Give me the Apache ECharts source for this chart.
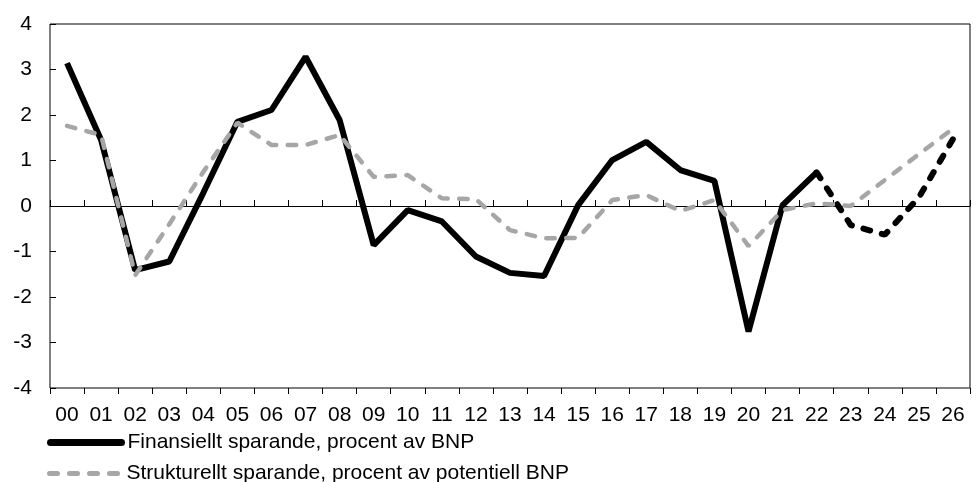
<!DOCTYPE html>
<html>
<head>
<meta charset="utf-8">
<script src="https://cdn.jsdelivr.net/npm/echarts@6/dist/echarts.min.js"></script>
<style>
  html, body { margin: 0; padding: 0; background: #fff; }
  #main { width: 978px; height: 482px; }
</style>
</head>
<body>
<div id="main"></div>
<script>
// år (2000-2026)
var years = ['00','01','02','03','04','05','06','07','08','09','10','11','12','13',
             '14','15','16','17','18','19','20','21','22','23','24','25','26'];

// finansiellt sparande, utfall t.o.m. 22, prognos därefter
var finansiellt = [3.14, 1.45, -1.41, -1.22, 0.29, 1.85, 2.11, 3.28, 1.89, -0.86,
                   -0.09, -0.34, -1.11, -1.47, -1.54, 0.02, 1.01, 1.41, 0.79, 0.55,
                   -2.76, 0.02, 0.74, -0.42, -0.63, 0.19, 1.47];
var lastOutcome = 22;

// strukturellt sparande
var strukturellt = [1.76, 1.56, -1.52, -0.40, 0.75, 1.83, 1.34, 1.34, 1.56, 0.64,
                    0.68, 0.17, 0.15, -0.53, -0.71, -0.70, 0.13, 0.24, -0.11, 0.13,
                    -0.88, -0.09, 0.06, 0.0, 0.57, 1.14, 1.70];

var yTicks = [-4, 4, 1]; // min, max, interval

var nameFin = 'Finansiellt sparande, procent av BNP';
var nameStr = 'Strukturellt sparande, procent av potentiell BNP';

var finUtfall = finansiellt.map(function (v, i) { return i <= lastOutcome ? v : null; });
var finPrognos = finansiellt.map(function (v, i) { return i >= lastOutcome ? v : null; });

var font = 'Liberation Sans, Arial, sans-serif';
var chart = echarts.init(document.getElementById('main'));

function legendFor(name, top, lineStyle) {
  return {
    left: 47, top: top, padding: 0,
    itemWidth: 71, itemHeight: 14,
    itemStyle: { opacity: 0 },
    lineStyle: lineStyle,
    data: [name],
    textStyle: { fontFamily: font, fontSize: 21, color: '#000', padding: [0, 0, 0, 1] }
  };
}

var option = {
  animation: false,
  grid: {
    left: 50, right: 8, top: 24, bottom: 94,
    show: true, borderColor: '#000', borderWidth: 1
  },
  legend: [
    legendFor(nameFin, 432, { color: '#000', width: 7, cap: 'round', type: 'solid' }),
    legendFor(nameStr, 463, { color: '#a6a6a6', width: 5, cap: 'round', type: [8, 12] })
  ],
  xAxis: [
    {
      type: 'category', data: years, position: 'bottom',
      axisLine: { show: false, onZero: false },
      axisTick: { show: false },
      axisLabel: { fontFamily: font, fontSize: 21, color: '#000', margin: 17, interval: 0 }
    },
    {
      type: 'category', data: years, position: 'bottom',
      axisLine: { show: true, onZero: true, lineStyle: { color: '#000', width: 1 } },
      axisTick: { show: true, inside: true, length: 6, lineStyle: { color: '#000' } },
      axisLabel: { show: false }
    },
    {
      type: 'category', data: years, position: 'bottom',
      axisLine: { show: false, onZero: true },
      axisTick: { show: true, inside: false, length: 6, lineStyle: { color: '#000' } },
      axisLabel: { show: false }
    }
  ],
  yAxis: {
    type: 'value', min: yTicks[0], max: yTicks[1], interval: yTicks[2],
    axisLine: { show: false },
    axisTick: { show: true, inside: true, length: 6, lineStyle: { color: '#000' } },
    splitLine: { show: false },
    axisLabel: { fontFamily: font, fontSize: 21, color: '#000', margin: 18 }
  },
  series: [
    {
      name: nameFin,
      type: 'line', data: finUtfall, symbol: 'none',
      lineStyle: { color: '#000', width: 6 },
      itemStyle: { color: '#000' }
    },
    {
      name: 'Finansiellt prognos',
      type: 'line', data: finPrognos, symbol: 'none',
      lineStyle: { color: '#000', width: 6, type: [7, 12], cap: 'round' },
      itemStyle: { color: '#000' }
    },
    {
      name: nameStr,
      type: 'line', data: strukturellt, symbol: 'none',
      lineStyle: { color: '#a6a6a6', width: 4.5, type: [8.5, 11.5], cap: 'round' },
      itemStyle: { color: '#a6a6a6' }
    }
  ]
};

chart.setOption(option);
</script>
</body>
</html>
